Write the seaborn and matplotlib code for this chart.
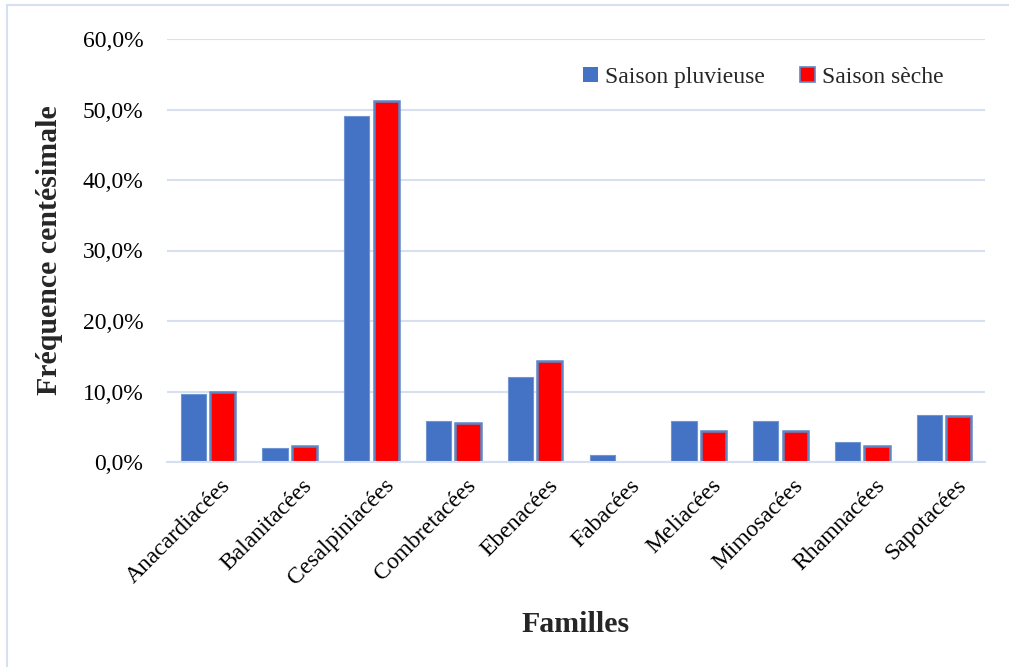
import matplotlib
matplotlib.use("Agg")
import matplotlib.pyplot as plt
import seaborn as sns
import pandas as pd
from matplotlib.lines import Line2D
from matplotlib.ticker import FuncFormatter
import matplotlib.transforms as mtransforms

familles = ["Anacardiacées", "Balanitacées", "Cesalpiniacées", "Combretacées",
            "Ebenacées", "Fabacées", "Meliacées", "Mimosacées", "Rhamnacées", "Sapotacées"]
saison_pluvieuse = [9.6, 2.0, 49.1, 5.8, 12.1, 1.0, 5.8, 5.8, 2.9, 6.7]
saison_seche = [9.9, 2.3, 51.2, 5.5, 14.3, 0.0, 4.4, 4.4, 2.3, 6.5]
series = ["Saison pluvieuse", "Saison sèche"]
yticks = [0, 10, 20, 30, 40, 50, 60]

df = pd.DataFrame({
    "Famille": familles * 2,
    "Saison": [series[0]] * len(familles) + [series[1]] * len(familles),
    "Valeur": saison_pluvieuse + saison_seche,
})

sns.set_theme(style="white")
plt.rcParams["font.family"] = ["Liberation Serif", "DejaVu Serif"]

fig = plt.figure(figsize=(10.09, 6.67), dpi=100)
ax = fig.add_axes([167 / 1009, 1 - 462 / 667, (985 - 167) / 1009, (462 - 39) / 667])

palette = {series[0]: "#4472C4", series[1]: "#FF0000"}
sns.barplot(data=df, x="Famille", y="Valeur", hue="Saison", order=familles,
            hue_order=series, palette=palette, width=0.72, gap=0.14,
            saturation=1, ax=ax, legend=False, linewidth=0)

for bar in ax.containers[0]:
    bar.set_edgecolor("#6F95D3")
    bar.set_linewidth(0.8)
for bar in ax.containers[1]:
    bar.set_edgecolor("#5B87C8")
    bar.set_linewidth(1.8)

ax.set_ylim(0, 60)
ax.set_xlim(-0.5, len(familles) - 0.5)
ax.set_yticks(yticks)
ax.yaxis.set_major_formatter(FuncFormatter(lambda v, p: f"{v:.1f}".replace(".", ",") + "%"))
ax.grid(axis="y", color="#D6E0F0", linewidth=1.5)
ax.set_axisbelow(True)
for s in ["top", "right", "left"]:
    ax.spines[s].set_visible(False)
ax.spines["bottom"].set_color("#D6E0F0")
ax.spines["bottom"].set_linewidth(1.5)
ax.tick_params(axis="both", length=0, labelsize=17, colors="black")
ax.tick_params(axis="y", pad=17)

offset = mtransforms.ScaledTranslation(0.12, -0.08, fig.dpi_scale_trans)
ax.set_xticks(range(len(familles)))
ax.set_xticklabels(familles, rotation=45, ha="right", rotation_mode="anchor")
for lbl in ax.get_xticklabels():
    lbl.set_transform(lbl.get_transform() + offset)

ax.set_xlabel("Familles", fontsize=21.5, fontweight="bold", labelpad=16)
ax.set_ylabel("Fréquence centésimale", fontsize=21.5, fontweight="bold", labelpad=14)

handles = [plt.Rectangle((0, 0), 1, 1, facecolor=palette[series[0]], edgecolor="none"),
           plt.Rectangle((0, 0), 1, 1, facecolor=palette[series[1]], edgecolor="#5B87C8", linewidth=1.2)]
ax.legend(handles, series, loc="upper right", bbox_to_anchor=(0.975, 0.985), ncol=2,
          frameon=False, prop={"family": "Liberation Serif", "size": 17},
          handlelength=0.62, handleheight=0.62,
          handletextpad=0.3, columnspacing=1.5)

# outer chart frame (left and top visible)
fig.add_artist(Line2D([6.5 / 1009, 6.5 / 1009], [0, 1 - 5 / 667], transform=fig.transFigure,
                      color="#D6E0F0", linewidth=1.5))
fig.add_artist(Line2D([6.5 / 1009, 1.0], [1 - 5 / 667, 1 - 5 / 667], transform=fig.transFigure,
                      color="#D6E0F0", linewidth=1.5))

fig.savefig("out.png", dpi=100)
